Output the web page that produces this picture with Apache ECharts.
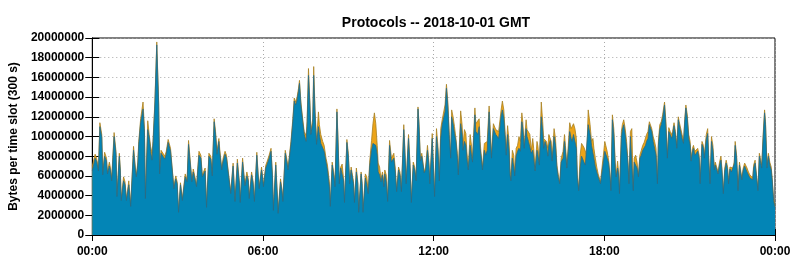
<!DOCTYPE html>
<html>
<head>
<meta charset="utf-8">
<script src="https://cdn.jsdelivr.net/npm/echarts@6/dist/echarts.min.js"></script>
<style>
  html, body { margin: 0; padding: 0; background: #fff; }
  #chart { width: 794px; height: 260px; }
</style>
</head>
<body>
<div id="chart"></div>
<script>
// minutes since 00:00 GMT
var minutes = [
  0, 6, 9, 13, 16, 20, 22, 26, 30, 32, 36, 38, 41, 46, 50, 52, 57, 59, 61, 66,
  69, 72, 77, 81, 87, 91, 93, 96, 98, 102, 107, 110, 112, 117, 120, 123, 126, 128, 132, 136,
  140, 142, 145, 149, 153, 156, 160, 165, 168, 172, 176, 179, 182, 186, 190, 196, 200, 203, 207, 210,
  213, 217, 220, 225, 229, 232,
  238, 241, 246, 250, 253, 257, 260, 263, 267, 269, 273, 276, 280, 283, 287, 292, 297, 301, 306, 310,
  312, 317, 320, 322, 326, 329, 331, 336, 339, 342, 347, 350, 352, 357, 359, 361, 366, 369, 373, 377,
  380, 382, 387, 389, 392, 397, 400, 402, 407, 410, 413, 416, 419, 423, 426, 429, 432, 435, 437, 440,
  444, 447, 451, 453, 456, 459, 461, 465, 467, 470, 473, 477,
  479, 482, 486, 489, 493, 496, 500, 502, 506, 510, 512, 516, 518, 521, 524, 527, 530, 532, 537, 540,
  543, 546, 548, 551, 553, 557, 560, 562, 567, 569, 571, 576, 579, 582, 585, 589, 592, 595, 598, 601,
  603, 606, 609, 612, 615, 617, 620, 623, 627, 631, 633, 636, 639, 642, 646, 649, 652, 657, 659, 662,
  667, 670, 673, 677, 680, 683, 687, 689, 692, 695, 698, 700, 703, 707, 710, 712, 717,
  719, 722, 726, 729, 732, 735, 738, 742, 744, 747, 750, 753, 756, 758, 761, 764, 767, 770, 772, 777,
  780, 782, 785, 788, 790, 793, 797, 800, 802, 807, 809, 813, 816, 818, 820, 823, 827, 830, 833, 837,
  839, 842, 846, 848, 851, 854, 857, 860, 862, 865, 868, 871, 873, 876, 879, 881, 883, 886, 889, 891,
  894, 897, 900, 903, 906, 908, 911, 915, 917, 920, 923, 926, 929, 931, 934, 938, 940, 943, 947, 950,
  952, 955, 958, 961, 963,
  966, 968, 970, 974, 977, 980, 983, 986, 989, 993, 996, 998, 1001, 1004, 1007, 1010, 1012, 1015, 1018, 1021,
  1023, 1026, 1029, 1032, 1035, 1037, 1040, 1043, 1046, 1048, 1050, 1053, 1056, 1058, 1061, 1064, 1067, 1070, 1072, 1075,
  1078, 1081, 1083, 1086, 1089, 1092, 1094, 1097, 1100, 1103, 1105, 1108, 1110, 1112, 1116, 1118, 1121, 1124, 1127, 1130,
  1132, 1135, 1138, 1141, 1143, 1146, 1149, 1152, 1155, 1158, 1161, 1164, 1167, 1169, 1172, 1175, 1178, 1180, 1183, 1186,
  1189, 1192, 1194, 1197, 1200, 1203,
  1207, 1210, 1213, 1216, 1219, 1222, 1224, 1227, 1230, 1233, 1236, 1238, 1241, 1244, 1247, 1250, 1252, 1255, 1258, 1261,
  1263, 1266, 1268, 1271, 1274, 1277, 1280, 1282, 1286, 1289, 1291, 1295, 1298, 1300, 1303, 1306, 1309, 1312, 1314, 1317,
  1320, 1323, 1326, 1328, 1331, 1334, 1337, 1340, 1342, 1345, 1348, 1351, 1354, 1356, 1359, 1362, 1365, 1367, 1370, 1373,
  1376, 1379, 1381, 1384, 1387, 1390, 1393, 1395, 1398, 1401, 1404, 1407, 1409, 1412, 1415, 1418, 1420, 1423, 1426, 1429,
  1432, 1434, 1437, 1440
];

// top of the orange layer (all protocols), millions of bytes
var totalM = [
  7.0, 8.2, 7.8, 6.8, 11.4, 10.2, 6.3, 8.4, 7.8, 6.4, 7.4, 6.9, 5.8, 10.4, 8.5, 4.1, 8.3, 6.8, 3.7, 5.9,
  5.4, 3.7, 5.5, 3.1, 9.0, 6.8, 6.1, 7.4, 9.5, 11.8, 13.5, 10.8, 3.9, 11.6, 10.2, 9.0, 8.3, 9.5, 13.5, 19.6,
  13.5, 6.4, 8.6, 8.4, 8.0, 8.5, 9.7, 8.8, 7.1, 4.9, 6.0, 5.4, 2.4, 5.3, 3.7, 6.2, 5.6, 9.6, 9.6, 5.6,
  6.7, 6.8, 5.1, 8.5, 8.1, 6.1,
  6.8, 3.0, 8.3, 8.0, 6.3, 11.8, 10.5, 8.5, 9.8, 8.6, 6.8, 7.8, 8.5, 8.1, 6.4, 4.4, 7.3, 3.6, 7.7, 5.5,
  3.5, 7.8, 6.1, 5.2, 6.4, 5.7, 3.9, 6.4, 5.5, 3.6, 8.4, 6.1, 4.9, 6.9, 6.1, 5.1, 7.1, 7.5, 8.1, 8.8,
  6.1, 2.7, 7.4, 5.4, 2.4, 5.7, 4.7, 3.6, 8.6, 7.8, 6.9, 6.8, 9.5, 11.8, 13.9, 13.5, 14.0, 14.9, 15.7, 13.5,
  11.7, 10.5, 10.1, 11.5, 16.9, 13.5, 10.5, 11.8, 17.1, 12.5, 9.5, 12.5,
  11.2, 10.2, 9.5, 9.1, 7.8, 7.1, 5.4, 3.0, 7.4, 6.1, 5.1, 12.8, 10.2, 5.4, 6.9, 7.2, 5.7, 3.4, 9.7, 8.3,
  5.4, 6.9, 7.1, 5.4, 3.4, 6.8, 5.4, 2.4, 6.4, 5.4, 2.4, 6.2, 5.9, 4.4, 7.4, 9.6, 11.3, 12.4, 11.3, 9.1,
  7.3, 6.9, 5.7, 6.4, 5.4, 6.6, 6.1, 3.6, 9.6, 7.8, 7.8, 8.3, 6.8, 4.6, 6.9, 6.4, 4.6, 11.2, 9.1, 5.4,
  10.2, 7.4, 3.4, 7.4, 6.9, 5.7, 13.0, 11.5, 7.8, 8.3, 8.5, 6.4, 6.9, 9.1, 7.4, 5.4, 10.3,
  7.8, 4.1, 10.8, 9.1, 5.8, 10.8, 11.7, 11.8, 13.2, 15.3, 13.5, 10.2, 8.1, 12.7, 12.0, 11.0, 9.8, 8.3, 6.4, 12.6,
  11.2, 9.1, 10.7, 10.3, 8.5, 6.9, 10.2, 9.0, 7.8, 12.9, 11.3, 11.3, 11.8, 9.5, 8.3, 6.9, 9.3, 9.1, 9.5, 13.1,
  11.2, 8.1, 11.3, 11.2, 10.7, 10.7, 10.5, 11.7, 12.6, 13.6, 12.7, 10.2, 8.6, 11.1, 9.5, 6.8, 5.8, 8.6, 8.1, 6.3,
  8.8, 9.1, 10.0, 9.5, 12.4, 11.5, 9.1, 11.7, 10.7, 10.5, 10.2, 8.6, 9.8, 8.8, 6.8, 9.5, 9.0, 7.4, 13.5, 11.5,
  9.8, 10.0, 9.5, 8.8, 10.2,
  10.3, 9.5, 7.8, 10.8, 9.8, 7.1, 6.1, 5.4, 7.8, 8.5, 10.2, 9.1, 7.1, 9.1, 11.4, 10.8, 10.8, 11.3, 10.8, 9.8,
  6.1, 4.7, 8.1, 9.3, 9.1, 8.9, 8.8, 8.1, 12.7, 12.7, 11.2, 9.5, 9.8, 8.8, 7.8, 6.9, 6.2, 6.1, 5.4, 6.8,
  8.1, 9.5, 9.1, 8.5, 7.6, 6.1, 4.7, 12.2, 10.8, 7.4, 6.1, 7.5, 6.4, 4.4, 10.5, 11.2, 11.7, 10.8, 9.5, 7.4,
  5.4, 10.5, 10.8, 4.7, 7.8, 8.1, 7.4, 6.1, 8.1, 8.6, 9.1, 9.4, 9.6, 10.2, 10.5, 11.5, 11.7, 10.8, 10.0, 9.5,
  8.8, 5.4, 9.5, 11.2, 11.5, 12.2,
  13.5, 11.5, 8.1, 10.9, 10.5, 10.2, 10.5, 11.4, 10.5, 9.1, 12.0, 11.5, 11.7, 10.2, 9.6, 12.0, 13.2, 12.2, 10.2, 9.5,
  7.8, 8.8, 9.1, 8.5, 8.6, 8.8, 8.1, 5.4, 9.5, 9.1, 8.1, 10.2, 10.8, 8.1, 5.4, 10.0, 9.1, 6.8, 7.4, 7.3,
  6.4, 7.4, 8.0, 6.8, 4.4, 6.8, 7.6, 6.9, 5.4, 6.9, 6.8, 6.8, 7.4, 9.5, 8.1, 4.7, 7.4, 7.3, 5.8, 6.8,
  7.3, 7.1, 6.8, 6.4, 6.1, 5.9, 5.8, 7.1, 7.6, 6.1, 4.7, 8.3, 8.1, 7.1, 10.2, 12.7, 11.5, 7.1, 8.3, 7.4,
  6.9, 5.8, 3.7, 3.0
];

// top of the blue layer, millions of bytes
var blueM = [
  6.5, 7.8, 7.5, 6.5, 11.0, 9.9, 6.1, 8.0, 7.5, 6.2, 7.0, 6.6, 5.5, 10.0, 8.2, 3.9, 8.0, 6.6, 3.5, 5.5,
  5.1, 3.5, 5.1, 2.9, 8.6, 6.5, 5.9, 7.1, 9.2, 11.4, 12.8, 10.4, 3.7, 10.7, 9.9, 8.5, 7.6, 9.1, 13.2, 19.3,
  13.2, 6.2, 8.3, 8.2, 7.7, 8.2, 9.4, 8.5, 6.9, 4.7, 5.7, 5.2, 2.3, 5.1, 3.5, 5.9, 5.4, 9.2, 9.3, 5.4,
  6.4, 6.5, 4.9, 8.1, 7.8, 5.9,
  6.5, 2.8, 8.0, 7.7, 6.0, 11.5, 10.2, 8.2, 9.5, 8.3, 6.6, 7.5, 8.2, 7.8, 6.2, 4.2, 7.0, 3.4, 7.3, 5.3,
  3.3, 7.4, 5.9, 5.0, 6.0, 5.5, 3.7, 6.1, 5.3, 3.4, 8.1, 5.9, 4.7, 6.6, 5.9, 4.9, 6.8, 7.2, 7.8, 8.5,
  5.9, 2.5, 7.1, 5.2, 2.2, 5.4, 4.5, 3.4, 8.3, 7.5, 6.6, 6.5, 9.2, 11.5, 13.6, 13.2, 13.7, 14.6, 15.4, 13.2,
  11.4, 10.2, 9.5, 11.0, 16.2, 13.1, 10.2, 11.4, 16.2, 12.1, 9.2, 11.0,
  10.2, 9.3, 9.3, 8.5, 7.4, 6.6, 4.9, 2.9, 7.1, 5.8, 4.9, 12.5, 9.8, 5.2, 6.8, 7.0, 5.5, 3.3, 9.4, 8.0,
  5.2, 6.6, 6.8, 5.2, 3.3, 6.4, 5.2, 2.3, 6.2, 5.2, 2.3, 5.8, 5.1, 4.2, 6.9, 8.6, 9.3, 9.3, 9.1, 8.1,
  6.4, 6.1, 5.4, 6.1, 4.9, 6.2, 5.4, 3.4, 9.1, 7.4, 7.3, 7.8, 6.4, 4.4, 6.6, 6.1, 4.4, 10.7, 8.8, 5.2,
  9.8, 7.1, 3.3, 7.1, 6.6, 5.5, 12.8, 11.2, 7.5, 8.0, 8.1, 6.3, 6.6, 8.6, 7.1, 5.2, 9.8,
  7.4, 3.9, 10.0, 8.6, 5.5, 9.8, 11.2, 11.3, 12.5, 14.9, 13.0, 9.8, 7.8, 12.0, 11.3, 10.3, 9.5, 7.8, 6.1, 11.3,
  10.2, 8.6, 9.5, 9.1, 7.8, 6.6, 9.1, 8.0, 7.4, 12.2, 10.5, 10.2, 11.0, 8.8, 8.0, 6.6, 8.6, 8.1, 8.6, 12.5,
  10.2, 7.8, 10.8, 10.7, 10.2, 10.0, 9.8, 11.0, 12.0, 12.7, 11.8, 9.8, 8.1, 10.2, 8.6, 6.1, 5.5, 7.8, 6.9, 6.0,
  8.0, 8.5, 8.8, 8.5, 11.5, 10.8, 8.8, 10.8, 10.0, 9.5, 9.5, 8.3, 8.6, 7.8, 6.5, 8.6, 8.1, 7.1, 12.0, 10.5,
  8.8, 9.5, 9.0, 8.0, 9.1,
  9.6, 8.6, 7.5, 10.0, 9.1, 6.8, 5.8, 5.2, 7.4, 7.8, 9.5, 8.5, 6.8, 8.5, 10.5, 9.8, 9.5, 10.2, 9.5, 8.8,
  5.8, 4.5, 6.8, 8.0, 7.8, 7.4, 7.1, 6.9, 11.2, 11.2, 10.2, 9.1, 9.1, 7.8, 6.9, 6.4, 5.9, 5.7, 5.2, 6.3,
  7.4, 8.5, 8.3, 7.8, 7.3, 5.9, 4.5, 11.7, 10.2, 6.8, 5.9, 6.8, 6.1, 4.2, 9.8, 10.7, 11.2, 10.2, 8.8, 7.1,
  5.2, 10.0, 10.2, 4.5, 7.4, 7.6, 6.8, 5.9, 7.8, 8.1, 8.6, 8.8, 9.1, 9.5, 9.8, 11.2, 11.3, 10.5, 9.5, 8.8,
  8.1, 5.2, 9.1, 10.7, 11.2, 11.8,
  13.2, 10.8, 7.8, 10.5, 10.2, 9.8, 10.2, 11.1, 10.2, 8.8, 11.7, 11.2, 11.3, 9.8, 9.3, 11.7, 12.9, 11.8, 9.8, 9.1,
  7.5, 8.5, 8.8, 8.1, 8.3, 8.5, 7.8, 5.2, 9.2, 8.8, 7.8, 9.7, 10.3, 7.8, 5.2, 9.5, 8.6, 6.6, 7.1, 6.9,
  6.2, 7.1, 7.6, 6.6, 4.2, 6.5, 7.3, 6.6, 5.2, 6.7, 6.4, 6.6, 7.2, 9.1, 7.8, 4.5, 7.1, 6.9, 5.6, 6.6,
  7.0, 6.8, 6.4, 6.2, 5.8, 5.7, 5.6, 6.8, 7.3, 5.9, 4.5, 8.0, 7.8, 6.8, 9.8, 12.4, 11.2, 6.8, 8.0, 7.1,
  6.6, 5.6, 3.5, 2.8
];

var yTicks = [0, 2000000, 4000000, 6000000, 8000000, 10000000, 12000000, 14000000, 16000000, 18000000, 20000000];
var xTickLabels = ['00:00', '06:00', '12:00', '18:00', '00:00'];

function pairs(vals) {
  return minutes.map(function (m, i) { return [m, Math.round(vals[i] * 1e6)]; });
}

var chart = echarts.init(document.getElementById('chart'), null, { renderer: 'canvas' });

var font = '"Liberation Sans", Arial, sans-serif';
// light, sparse dots like the reference grid
var dotted = { type: [1, 3], color: '#a8a8a8', width: 1 };

var option = {
  animation: false,
  backgroundColor: '#ffffff',
  title: {
    text: 'Protocols -- 2018-10-01 GMT',
    left: 431,
    top: 11,
    textAlign: 'center',
    textStyle: { fontFamily: font, fontSize: 14, fontWeight: 'bold', color: '#000' }
  },
  grid: {
    left: 88, top: 38, width: 687, height: 197,
    show: true, borderColor: '#000', borderWidth: 1, backgroundColor: 'transparent'
  },
  xAxis: [{
    type: 'value', min: 0, max: 1440, interval: 360, position: 'bottom',
    axisLine: { show: true, lineStyle: { color: '#000', width: 1 } },
    axisTick: { show: true, inside: true, length: 6, lineStyle: { color: '#000' } },
    axisLabel: {
      margin: 11, fontFamily: font, fontSize: 12, fontWeight: 'bold', color: '#000',
      formatter: function (v) { return xTickLabels[Math.round(v / 360)]; }
    },
    splitLine: { show: true, lineStyle: dotted }
  }, {
    type: 'value', min: 0, max: 1440, interval: 360, position: 'top',
    axisLine: { show: true, lineStyle: { color: '#000', width: 1 } },
    axisTick: { show: true, inside: true, length: 6, lineStyle: { color: '#000' } },
    axisLabel: { show: false },
    splitLine: { show: false }
  }],
  yAxis: [{
    type: 'value', min: yTicks[0], max: yTicks[yTicks.length - 1], interval: 2000000, position: 'left',
    name: 'Bytes per time slot (300 s)',
    nameLocation: 'middle',
    nameGap: 72,
    nameTextStyle: { fontFamily: font, fontSize: 12, fontWeight: 'bold', color: '#000' },
    axisLine: { show: true, lineStyle: { color: '#000', width: 1 } },
    axisTick: { show: true, inside: true, length: 7, lineStyle: { color: '#000' } },
    axisLabel: {
      margin: 8, fontFamily: font, fontSize: 12, fontWeight: 'bold', color: '#000',
      formatter: function (v) { return String(v); }
    },
    splitLine: { show: true, lineStyle: dotted }
  }, {
    type: 'value', min: yTicks[0], max: yTicks[yTicks.length - 1], interval: 2000000, position: 'right',
    axisLine: { show: true, lineStyle: { color: '#000', width: 1 } },
    axisTick: { show: true, inside: true, length: 7, lineStyle: { color: '#000' } },
    axisLabel: { show: false },
    splitLine: { show: false }
  }],
  series: [{
    name: 'other',
    type: 'line',
    data: pairs(totalM),
    showSymbol: false,
    silent: true,
    z: 2,
    lineStyle: { color: '#a88020', width: 0.8 },
    areaStyle: { color: '#eca419', opacity: 1 }
  }, {
    name: 'main',
    type: 'line',
    data: pairs(blueM),
    showSymbol: false,
    silent: true,
    z: 3,
    lineStyle: { color: '#2a6a84', width: 0.8 },
    areaStyle: { color: '#0385b6', opacity: 1 }
  }]
};

chart.setOption(option);
</script>
</body>
</html>
